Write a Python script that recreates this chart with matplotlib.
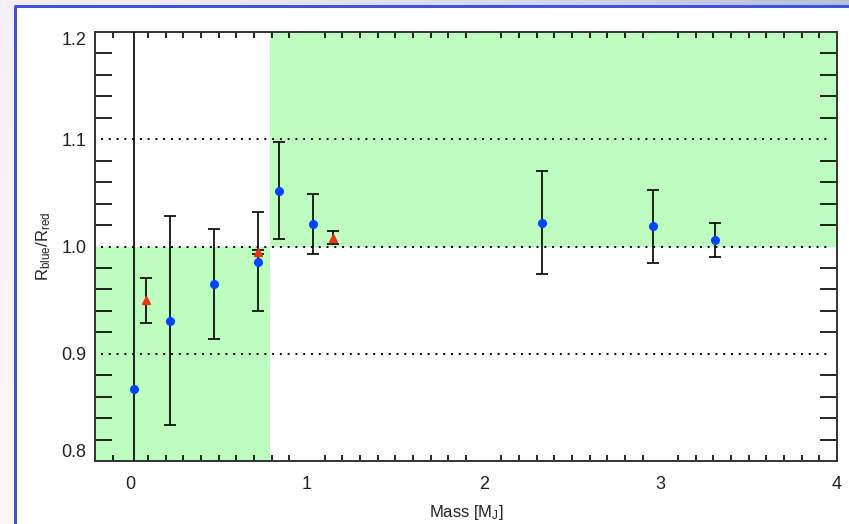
import numpy as np
import matplotlib
matplotlib.use("Agg")
import matplotlib.pyplot as plt
from matplotlib.ticker import MultipleLocator
from matplotlib.patches import Rectangle

# data
blue_mass = [0.02, 0.226, 0.473, 0.725, 0.844, 1.036, 2.328, 2.958, 3.311]
blue_ratio = [0.867, 0.931, 0.965, 0.986, 1.052, 1.021, 1.022, 1.019, 1.006]
blue_err = [0.5, 0.097, 0.051, 0.046, 0.045, 0.028, 0.048, 0.034, 0.016]

red_mass = [0.086, 0.725, 1.145]
red_ratio = [0.950, 0.995, 1.008]
red_err = [0.021, 0.002, 0.006]

ref_lines = [0.9, 1.0, 1.1]
split_mass = 0.79
y_ticks = [0.8, 0.9, 1.0, 1.1, 1.2]
y_labels = ['0.8', '0.9', '1.0', '1.1', '1.2']

plt.rcParams['font.family'] = ['Liberation Sans', 'DejaVu Sans']
plt.rcParams['mathtext.fontset'] = 'custom'
plt.rcParams['mathtext.rm'] = 'Liberation Sans'
plt.rcParams['mathtext.default'] = 'regular'

fig = plt.figure(figsize=(8.49, 5.24), dpi=100)

# slide-like background: gradient strip on top and left, blue frame
bg = fig.add_axes([0, 0, 1, 1], zorder=-10)
bg.set_axis_off()
h, w = 524, 849
xx = np.linspace(0, 1, w)[None, :]
yy = np.linspace(0, 1, h)[:, None]
c0 = np.array([0.95, 0.94, 0.98])
c1 = np.array([0.70, 0.75, 0.86])
grad = c0 + (c1 - c0) * (xx[..., None] ** 1.5)
fade = np.clip(yy[..., None] * 1.3, 0, 1)
grad = grad * (1 - fade) + fade * np.array([1.0, 1.0, 1.0]) * 0.5 + grad * fade * 0.5
bg.imshow(grad, extent=[0, w, h, 0], aspect='auto')
bg.add_patch(Rectangle((15, 6), w - 15, h - 6, facecolor='white', edgecolor='none'))
bg.plot([15, 15], [h, 5.5], color='#4452d4', lw=2.2, solid_capstyle='butt')
bg.plot([14, w], [5.5, 5.5], color='#4452d4', lw=2.2, solid_capstyle='butt')
bg.set_xlim(0, w)
bg.set_ylim(h, 0)

ax = fig.add_axes([95 / 849, 1 - 461 / 524, (837 - 95) / 849, (461 - 32) / 524])
ax.set_xlim(-0.2, 4)
ax.set_ylim(0.8, 1.2)

green = '#bffcbf'
ax.axvspan(-0.2, split_mass, ymin=0, ymax=0.5, color=green, lw=0, zorder=0)
ax.axvspan(split_mass, 4, ymin=0.5, ymax=1, color=green, lw=0, zorder=0)

for yv in ref_lines:
    ax.axhline(yv, xmin=0.008, xmax=0.993, color='black', lw=1.4,
               linestyle=(0, (1.0, 3.0)), zorder=1)

ax.errorbar(blue_mass, blue_ratio, yerr=blue_err, fmt='o', color='#0044ff',
            ms=5.5, ecolor='black', elinewidth=1.2, capsize=4, capthick=1.2, zorder=3)
ax.errorbar(red_mass, red_ratio, yerr=red_err, fmt='^', color='#ee3311',
            ms=6, ecolor='black', elinewidth=1.2, capsize=4, capthick=1.2, zorder=3)

ax.xaxis.set_major_locator(MultipleLocator(1))
ax.xaxis.set_minor_locator(MultipleLocator(0.1))
ax.yaxis.set_minor_locator(MultipleLocator(0.02))
ax.set_yticks(y_ticks)
ax.set_yticklabels(y_labels)
ylabs = ax.get_yticklabels()
ylabs[0].set_verticalalignment('bottom')
ylabs[-1].set_verticalalignment('top')

ax.tick_params(axis='both', which='major', length=0, labelsize=13,
               labelcolor='#222222')
ax.tick_params(axis='x', which='major', pad=11)
ax.tick_params(axis='y', which='major', pad=6)
ax.tick_params(axis='x', which='minor', direction='in', length=4.5, width=1.2,
               top=True, bottom=True)
ax.tick_params(axis='y', which='minor', direction='in', length=12, width=1.2,
               left=True, right=True)

for s in ax.spines.values():
    s.set_linewidth(1.4)
    s.set_color('#333333')

ax.set_xlabel('Mass [M$_J$]', fontsize=12, color='#222222', labelpad=7)
ax.set_ylabel('R$_{blue}$/R$_{red}$', fontsize=12, color='#222222', labelpad=6)

fig.savefig('out.png', dpi=100)
